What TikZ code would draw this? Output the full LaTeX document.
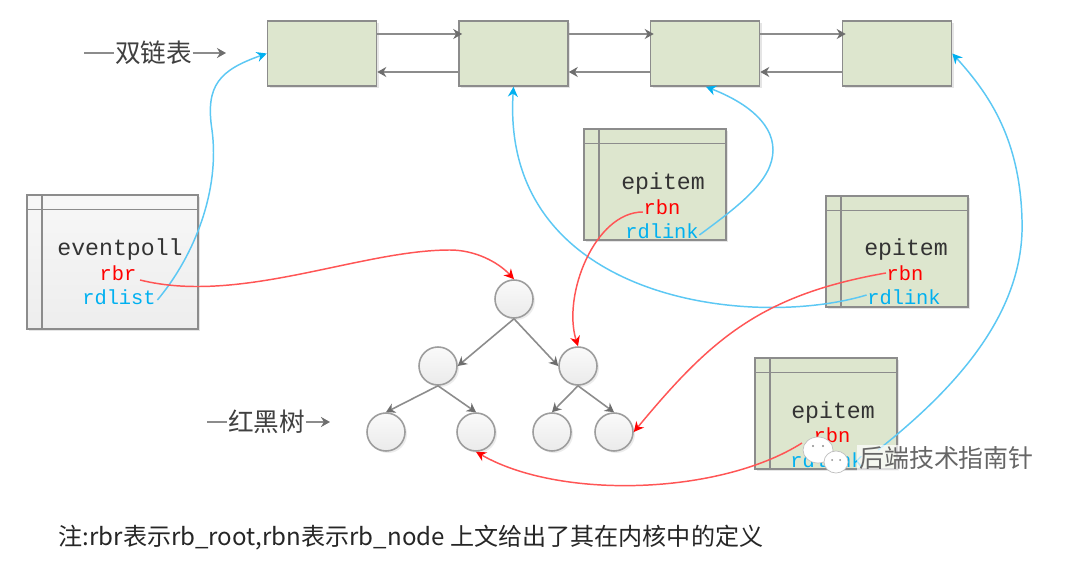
\documentclass[tikz,border=0pt]{standalone}
\usepackage{xcolor}
\usepackage{fontspec}
\setmainfont{Noto Sans CJK SC}
\setmonofont{Liberation Mono}
\usepackage{tikz}
\usetikzlibrary{arrows.meta,shadows}

\definecolor{boxgreen}{HTML}{DDE6CE}
\definecolor{linegray}{HTML}{8C8C8C}
\definecolor{tipgray}{HTML}{6E6E6E}
\definecolor{linkblue}{HTML}{5CC8F4}
\definecolor{textblue}{HTML}{00B0F0}
\definecolor{linkred}{HTML}{FF5555}

\begin{document}
\begin{tikzpicture}[
    listbox/.style={rectangle, draw=linegray, line width=.45pt, fill=boxgreen, minimum width=1.09cm, minimum height=.65cm, inner sep=0pt, drop shadow={shadow xshift=.02cm, shadow yshift=-.02cm, opacity=.2}},
    greenbox/.style={listbox, minimum width=1.42cm, minimum height=1.11cm},
    graybox/.style={listbox, fill=none, top color=white!97!black, bottom color=white!93!black, minimum width=1.71cm, minimum height=1.34cm},
    treenode/.style={circle, draw=linegray!85, line width=.45pt, top color=white!98!black, bottom color=white!92!black, minimum size=.38cm, inner sep=0pt, drop shadow={shadow xshift=.02cm, shadow yshift=-.02cm, opacity=.15}},
    title/.style={font=\ttfamily\fontsize{6.6}{7}\selectfont, text=black!80, inner sep=0pt},
    redtxt/.style={font=\ttfamily\fontsize{5.8}{6}\selectfont, text=red, inner sep=0pt},
    bluetxt/.style={font=\ttfamily\fontsize{5.8}{6}\selectfont, text=textblue, inner sep=0pt},
    side/.style={font=\fontsize{7.3}{8}\selectfont, text=black!75, inner sep=0pt},
    grayarrow/.style={-{Stealth[length=.09cm,width=.1cm,color=tipgray]}, draw=linegray, line width=.45pt},
    bluearrow/.style={-{Stealth[length=.1cm,width=.1cm,color=textblue]}, draw=linkblue, line width=.42pt},
    redarrow/.style={-{Stealth[length=.1cm,width=.1cm,color=red]}, draw=linkred, line width=.42pt}
]
    \useasboundingbox[fill=white] (0,0) rectangle (10.8,-5.75);

    % doubly linked list
    \node[listbox] (la) at (3.22,-.535) {};
    \node[listbox] (lb) at (5.135,-.535) {};
    \node[listbox] (lc) at (7.05,-.535) {};
    \node[listbox] (ld) at (8.97,-.535) {};
    \foreach \p/\q in {la/lb,lb/lc,lc/ld} {
        \draw[grayarrow] ([yshift=.195cm]\p.east) -- ([xshift=.04cm,yshift=.195cm]\q.west);
        \draw[grayarrow] ([yshift=-.185cm]\q.west) -- ([yshift=-.185cm]\p.east);
    }

    % struct boxes
    \node[graybox] (evp) at (1.125,-2.62) {};
    \node[greenbox] (epa) at (6.55,-1.845) {};
    \node[greenbox] (epb) at (8.97,-2.515) {};
    \node[greenbox] (epc) at (8.26,-4.135) {};
    \foreach \n in {evp,epa,epb,epc} {
        \draw[linegray, line width=.45pt] ([xshift=.155cm]\n.north west) -- ([xshift=.155cm]\n.south west);
        \draw[linegray, line width=.45pt] ([yshift=-.155cm]\n.north west) -- ([yshift=-.155cm]\n.north east);
    }

    \node[title] (evptxt) at (1.2,-2.5) {eventpoll};
    \node[redtxt] (rbr) at (1.18,-2.73) {rbr};
    \node[bluetxt] (rdlist) at (1.19,-2.97) {rdlist};
    \node[title] (epatxt) at (6.63,-1.84) {epitem};
    \node[redtxt] (rbna) at (6.62,-2.07) {rbn};
    \node[bluetxt] (rdlinka) at (6.62,-2.31) {rdlink};
    \node[title] (epbtxt) at (9.06,-2.5) {epitem};
    \node[redtxt] (rbnb) at (9.05,-2.73) {rbn};
    \node[bluetxt] (rdlinkb) at (9.04,-2.97) {rdlink};
    \node[title] (epctxt) at (8.33,-4.13) {epitem};
    \node[redtxt] (rbnc) at (8.32,-4.35) {rbn};
    \node[bluetxt] (rdlinkc) at (8.27,-4.6) {rdlink};

    % red black tree
    \node[treenode] (root) at (5.14,-2.99) {};
    \node[treenode] (tl) at (4.38,-3.66) {};
    \node[treenode] (tr) at (5.78,-3.66) {};
    \node[treenode] (tll) at (3.86,-4.32) {};
    \node[treenode] (tlr) at (4.76,-4.32) {};
    \node[treenode] (trl) at (5.52,-4.32) {};
    \node[treenode] (trr) at (6.14,-4.32) {};
    \draw[grayarrow] (root.south) -- (tl.east);
    \draw[grayarrow] (root.south) -- (tr.west);
    \foreach \p/\q in {tl/tll,tl/tlr,tr/trl,tr/trr}
        \draw[grayarrow] (\p.south) -- (\q.north);

    % side labels
    \node[side] (dll) at (1.535,-.53) {双链表};
    \coordinate (dllin) at (.84,-.53);
    \coordinate (dllout) at (2.26,-.53);
    \draw[linegray, line width=.4pt] (dllin) -- (dll);
    \draw[grayarrow] (dll) -- (dllout);
    \node[side] (rbt) at (2.665,-4.22) {红黑树};
    \coordinate (rbtin) at (2.07,-4.22);
    \coordinate (rbtout) at (3.3,-4.22);
    \draw[linegray, line width=.4pt] (rbtin) -- (rbt);
    \draw[grayarrow] (rbt) -- (rbtout);

    % rdlist and rdlink
    \draw[bluearrow] ([xshift=.01cm,yshift=-.03cm]rdlist.east) .. controls (1.95,-2.55) and (2.2,-1.9) .. (2.12,-1.3) .. controls (2.05,-.85) and (2.2,-.7) .. (la.west);
    \draw[bluearrow] ([yshift=-.04cm]rdlinka.east) .. controls (7.4,-2.05) and (7.73,-1.8) .. (7.73,-1.5) .. controls (7.73,-1.2) and (7.4,-1.0) .. ([xshift=.01cm]lc.south);
    \draw[bluearrow] ([yshift=.02cm]rdlinkb.west) .. controls (7.5,-3.3) and (5.0,-3.0) .. ([xshift=.0cm]lb.south);
    \draw[bluearrow] (8.78,-4.5) .. controls (9.6,-3.85) and (10.25,-3.1) .. (10.22,-2.2) .. controls (10.2,-1.4) and (9.9,-.95) .. (ld.east);

    % rbr and rbn
    \draw[redarrow] ([xshift=.03cm,yshift=-.07cm]rbr.east) .. controls (2.4,-3.05) and (3.6,-2.5) .. (4.5,-2.5) .. controls (4.75,-2.5) and (4.98,-2.62) .. (root.north);
    \draw[redarrow] ([yshift=-.05cm]rbna.west) .. controls (5.95,-2.12) and (5.62,-2.95) .. (tr.north);
    \draw[redarrow] (rbnb.west) .. controls (7.6,-2.95) and (7.1,-3.4) .. (trr.east);
    \draw[redarrow] (8.02,-4.43) .. controls (7.2,-4.95) and (5.6,-5.0) .. (tlr.south);

    % watermark
    \fill[white, draw=black!25, line width=.2pt] (8.18,-4.5) ellipse (.15cm and .13cm);
    \fill[white, draw=black!25, line width=.2pt] (8.36,-4.62) ellipse (.12cm and .11cm);
    \fill[black!45] (8.13,-4.46) circle (.012cm) (8.23,-4.46) circle (.012cm) (8.32,-4.6) circle (.01cm) (8.4,-4.6) circle (.01cm);
    \node[font=\fontsize{7.1}{8}\selectfont, text=black!60, fill=white, fill opacity=.7, text opacity=1, inner sep=.5pt] (mark) at (9.465,-4.585) {后端技术指南针};

    % note
    \node[font=\fontsize{6.85}{8}\selectfont, text=black!85, anchor=west, inner sep=0pt] (note) at (.58,-5.38) {注:rbr表示rb\_root,rbn表示rb\_node 上文给出了其在内核中的定义};
\end{tikzpicture}
\end{document}
